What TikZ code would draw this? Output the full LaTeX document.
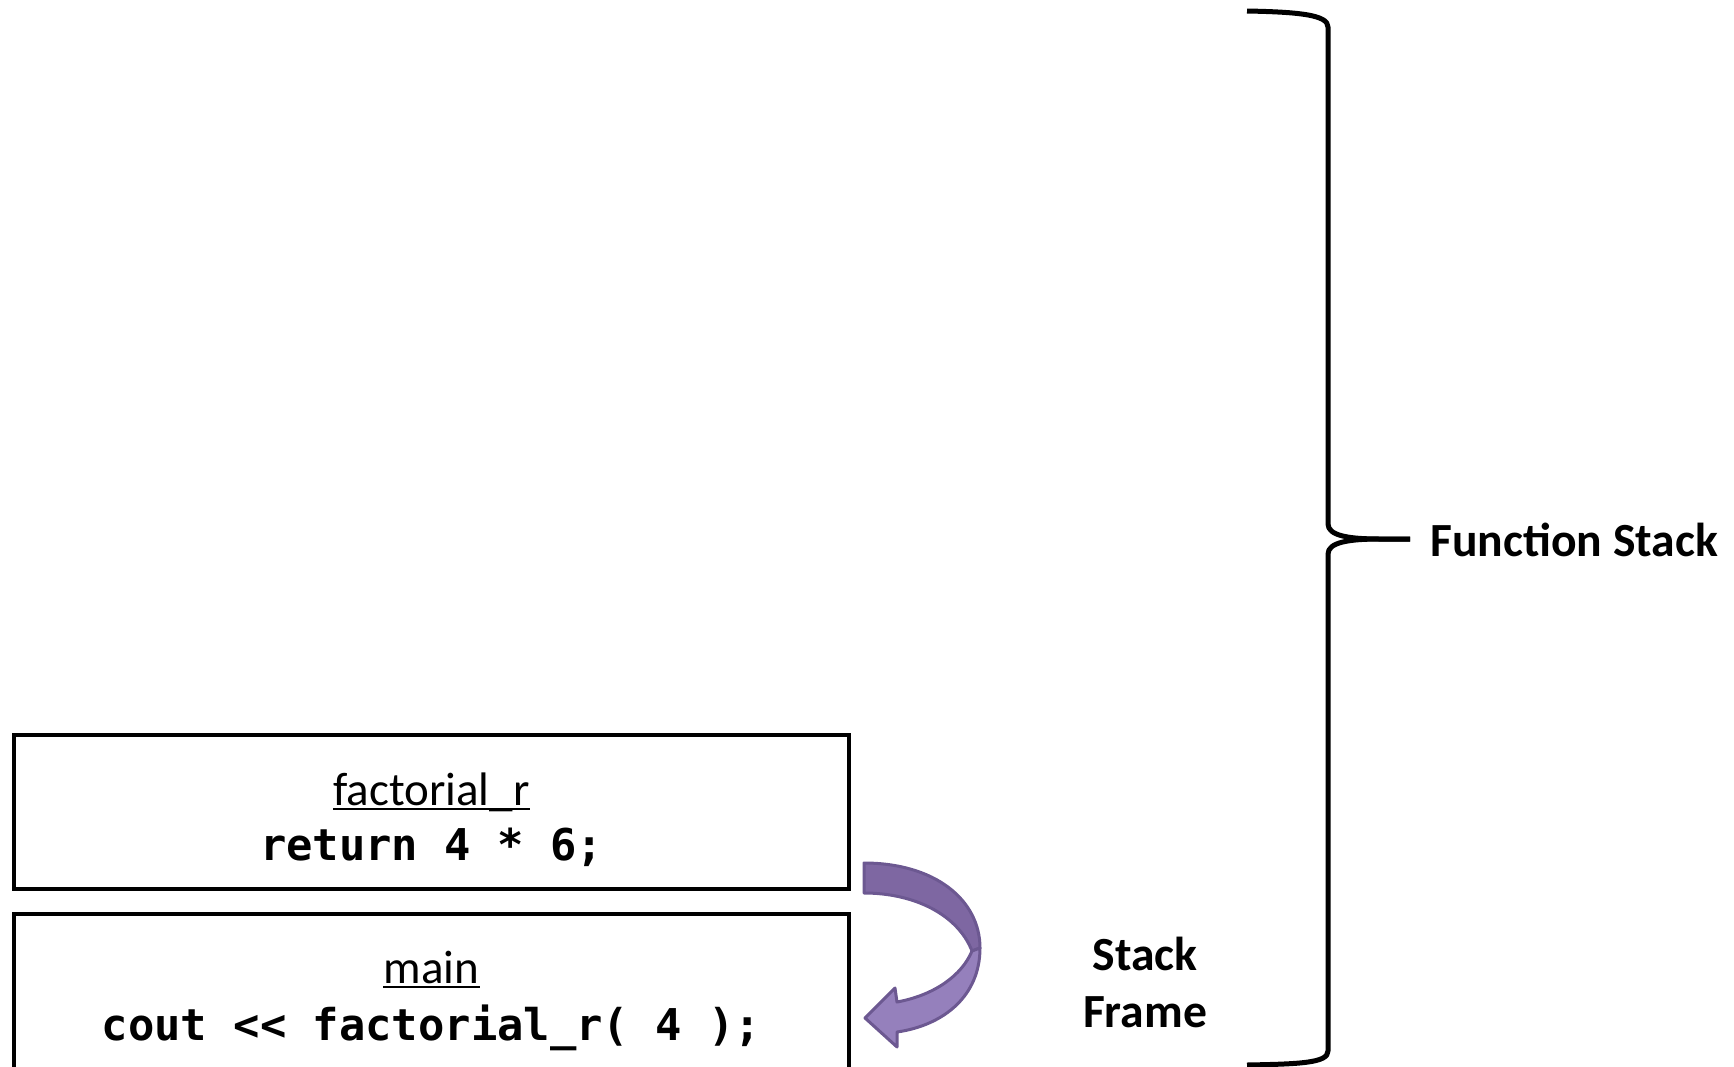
\documentclass[tikz,border=0pt]{standalone}
\usepackage{fontspec}
\setmainfont{Carlito}
\newfontfamily\codefont{DejaVu Sans Mono}
\begin{document}
\begin{tikzpicture}[x=0.5pt,y=-0.5pt,
  framebox/.style={draw=black, line width=2pt, inner sep=0pt},
  fname/.style={anchor=base, inner sep=0pt, font=\fontsize{23.5}{28}\selectfont},
  code/.style={anchor=base, inner sep=0pt, font=\codefont\bfseries\fontsize{21.9}{26}\selectfont},
  biglabel/.style={inner sep=0pt, font=\bfseries\fontsize{23.8}{28.2}\selectfont},
  ulinestyle/.style={line width=1.2pt},
  bracestyle/.style={line width=2.5pt, line cap=butt, line join=round},
  arrowline/.style={draw=arrowedge, line width=1.5pt, line join=round}]
\definecolor{arrowedge}{HTML}{6C5891}
\definecolor{arrowtop}{HTML}{7E67A2}
\definecolor{arrowlow}{HTML}{9580BC}

\clip (0,0) rectangle (1734,1066);

% stack frames
\node[framebox, minimum width=417.5pt, minimum height=77pt] (frameA) at (431.5,812) {};
\node[framebox, minimum width=417.5pt, minimum height=84pt] (frameB) at (431.5,998) {};

% frame contents
\node[fname] (nameA) at (431.5,805) {factorial\_r};
\draw[ulinestyle] ([yshift=-2pt]nameA.base west) -- ([yshift=-2pt]nameA.base east);
\node[code] (codeA) at (431.5,860) {return 4 * 6;};

\node[fname] (nameB) at (431.5,983) {main};
\draw[ulinestyle] ([yshift=-2pt]nameB.base west) -- ([yshift=-2pt]nameB.base east);
\node[code] (codeB) at (431.5,1040) {cout << factorial\_r( 4 );};

% curved return arrow
\path[arrowline, fill=arrowtop]
  (864,863) .. controls (935,863) and (980,900) .. (980,948)
  -- (972,951) .. controls (958,915) and (915,893) .. (864,893) -- cycle;
\path[arrowline, fill=arrowlow]
  (980,948) .. controls (980,995) and (945,1025) .. (897,1032)
  -- (897,1047) -- (865,1018) -- (895,988) -- (897,1002)
  .. controls (935,995) and (962,975) .. (972,951) -- cycle;

% labels
\node[biglabel, align=center, anchor=base] (frameLabel) at (1145,1027) {Stack\\Frame};

% brace round the whole stack
\coordinate (braceTop) at (1247,11);
\coordinate (braceBot) at (1247,1065);
\coordinate (braceTip) at (1410,539);
\draw[bracestyle] (braceTop) .. controls (1300,12) and (1328,15) .. (1328,27)
  -- (1328,524) .. controls (1328,536) and (1350,539) .. (1380,539) -- (braceTip);
\draw[bracestyle] (braceTip) -- (1380,539) .. controls (1350,539) and (1328,542) .. (1328,554)
  -- (1328,1051) .. controls (1328,1063) and (1300,1064) .. (braceBot);
\node[biglabel, anchor=base west] (stackLabel) at (1430,556) {Function Stack};
\end{tikzpicture}
\end{document}
